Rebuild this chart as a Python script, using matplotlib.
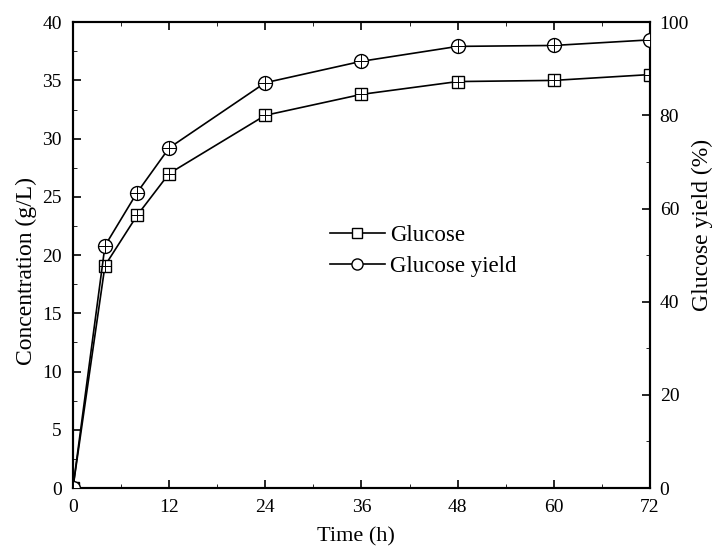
import numpy as np
from matplotlib import pyplot as plt
from matplotlib.ticker import MultipleLocator

plt.rcParams["font.family"] = ["Liberation Serif", "DejaVu Serif"]
plt.rcParams["font.size"] = 14

time_h = [0, 4, 8, 12, 24, 36, 48, 60, 72]
glucose = [0, 19.1, 23.4, 27.0, 32.0, 33.8, 34.9, 35.0, 35.5]
glucose_yield = [0, 52.0, 63.4, 73.0, 87.0, 91.6, 94.8, 95.0, 96.2]


def main():
    fig = plt.figure(figsize=(7.15, 5.5), dpi=100)
    ax = fig.add_axes([0.102, 0.1127, 0.807, 0.847])
    ax2 = ax.twinx()

    ms = 9
    ax.plot(time_h, glucose, "k-", lw=1.2, marker="s", ms=ms, mfc="white",
            mec="black", mew=1.0, label="Glucose", zorder=3)
    ax.plot(time_h, glucose, "k", lw=0, marker="+", ms=ms, mew=0.7, zorder=4)
    ax2.plot(time_h, glucose_yield, "k-", lw=1.2, marker="o", ms=ms + 1,
             mfc="white", mec="black", mew=1.0, label="Glucose yield", zorder=3)
    ax2.plot(time_h, glucose_yield, "k", lw=0, marker="+", ms=ms + 1, mew=0.7,
             zorder=4)

    ax.set_xlim(0, 72)
    ax.set_ylim(0, 40)
    ax2.set_ylim(0, 100)
    ax.xaxis.set_major_locator(MultipleLocator(12))
    ax.xaxis.set_minor_locator(MultipleLocator(6))
    ax.yaxis.set_major_locator(MultipleLocator(5))
    ax.yaxis.set_minor_locator(MultipleLocator(2.5))
    ax2.yaxis.set_major_locator(MultipleLocator(20))
    ax2.yaxis.set_minor_locator(MultipleLocator(10))

    ax.tick_params(axis="both", which="both", direction="in", top=True,
                   labelsize=14)
    ax.tick_params(which="major", length=6, width=1.2, pad=8)
    ax.tick_params(which="minor", length=3, width=0.6)
    ax2.tick_params(axis="y", which="both", direction="in", labelsize=14)
    ax2.tick_params(which="major", length=6, width=1.2, pad=7)
    ax2.tick_params(which="minor", length=3, width=0.6)
    for a in (ax, ax2):
        for s in a.spines.values():
            s.set_linewidth(1.5)

    ax.set_xlabel("Time (h)", fontsize=16)
    ax.set_ylabel("Concentration (g/L)", fontsize=17)
    ax2.set_ylabel("Glucose yield (%)", fontsize=17)
    ax.xaxis.set_label_coords(0.49, -0.084)
    ax.yaxis.set_label_coords(-0.062, 0.466)
    ax2.yaxis.set_label_coords(1.073, 0.564)

    h1, l1 = ax.get_legend_handles_labels()
    h2, l2 = ax2.get_legend_handles_labels()
    leg = ax.legend(h1 + h2, l1 + l2, loc="center left",
                    bbox_to_anchor=(0.425, 0.509), frameon=False, fontsize=16.5,
                    borderpad=0, handlelength=2.4, handletextpad=0.25,
                    markerscale=0.8, labelspacing=0.45)
    for line in leg.get_lines():
        line.set_linewidth(1.2)

    fig.savefig("out.png", dpi=100)


if __name__ == "__main__":
    main()
